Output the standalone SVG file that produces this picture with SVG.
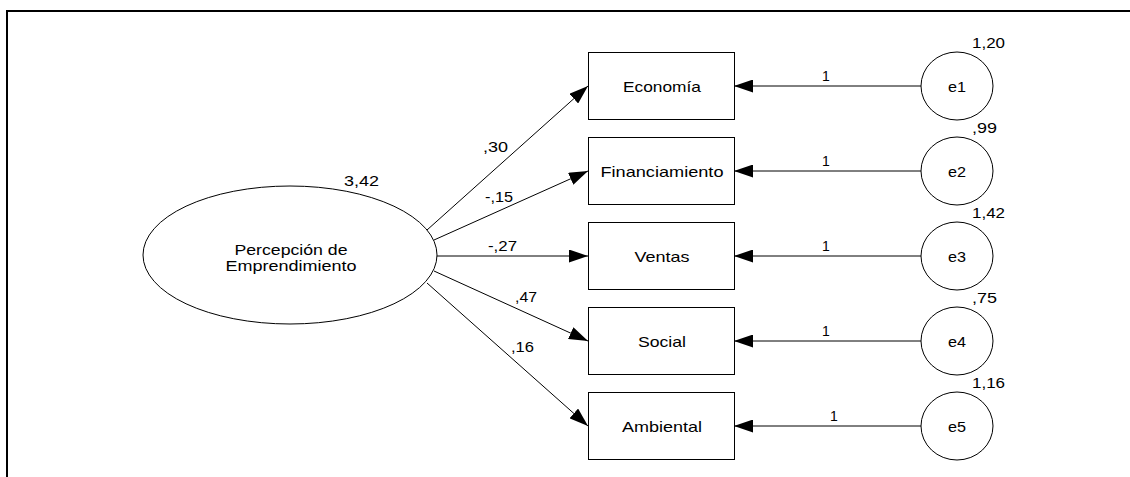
<svg xmlns="http://www.w3.org/2000/svg" width="1130" height="477" viewBox="0 0 1130 477">
<defs>
<style>
.t{font-family:"Liberation Sans",Arial,sans-serif;fill:#000}
.lbl{font-size:15px;text-anchor:middle}
.num{font-size:14px}
.mid{text-anchor:middle}
.box{fill:#fff;stroke:#000;stroke-width:1}
.ov{fill:#fff;stroke:#000;stroke-width:1}
.c{stroke:#000;stroke-width:1;fill:none}
</style>
<marker id="ah" markerUnits="userSpaceOnUse" viewBox="0 0 19 13" refX="19" refY="6.5" markerWidth="19" markerHeight="13" orient="auto"><path d="M0,0L19,6.5L0,13z" fill="#000"/></marker>
</defs>
<rect width="1130" height="477" fill="#fff"/>
<g id="frame" stroke="#000" stroke-width="2" fill="none">
<line x1="6" y1="11" x2="1130" y2="11"/>
<line x1="7" y1="10" x2="7" y2="477"/>
</g>
<g id="connectors">
<line class="c" x1="427" y1="230" x2="588" y2="86" marker-end="url(#ah)"/>
<line class="c" x1="434" y1="240" x2="588" y2="171" marker-end="url(#ah)"/>
<line class="c" x1="437" y1="256" x2="588" y2="256" marker-end="url(#ah)"/>
<line class="c" x1="434" y1="271" x2="588" y2="341" marker-end="url(#ah)"/>
<line class="c" x1="427" y1="283" x2="588" y2="426" marker-end="url(#ah)"/>
<line class="c" x1="921" y1="86" x2="734" y2="86" marker-end="url(#ah)"/>
<line class="c" x1="921" y1="171" x2="734" y2="171" marker-end="url(#ah)"/>
<line class="c" x1="921" y1="256" x2="734" y2="256" marker-end="url(#ah)"/>
<line class="c" x1="921" y1="341" x2="734" y2="341" marker-end="url(#ah)"/>
<line class="c" x1="921" y1="426" x2="734" y2="426" marker-end="url(#ah)"/>
<text class="t num" x="483" y="152" textLength="25" lengthAdjust="spacingAndGlyphs">,30</text>
<text class="t num" x="485" y="202" textLength="28" lengthAdjust="spacingAndGlyphs">-,15</text>
<text class="t num" x="488" y="251" textLength="29" lengthAdjust="spacingAndGlyphs">-,27</text>
<text class="t num" x="515" y="302" textLength="22" lengthAdjust="spacingAndGlyphs">,47</text>
<text class="t num" x="511" y="352" textLength="23" lengthAdjust="spacingAndGlyphs">,16</text>
<text class="t num mid" x="826" y="81">1</text>
<text class="t num mid" x="826" y="166">1</text>
<text class="t num mid" x="826" y="251">1</text>
<text class="t num mid" x="826" y="336">1</text>
<text class="t num mid" x="834" y="421">1</text>
</g>
<g id="latent">
<ellipse class="ov" cx="290" cy="255" rx="147" ry="69"/>
<text class="t lbl" x="291" y="255" textLength="113" lengthAdjust="spacingAndGlyphs">Percepción de</text>
<text class="t lbl" x="291" y="271" textLength="131" lengthAdjust="spacingAndGlyphs">Emprendimiento</text>
<text class="t num" x="344" y="186" textLength="35" lengthAdjust="spacingAndGlyphs">3,42</text>
</g>
<g id="economia">
<rect class="box" x="588.5" y="52.5" width="146" height="67"/>
<text class="t lbl" x="662" y="91.5" textLength="78" lengthAdjust="spacingAndGlyphs">Economía</text>
</g>
<g id="financiamiento">
<rect class="box" x="588.5" y="137.5" width="146" height="67"/>
<text class="t lbl" x="662" y="176.5" textLength="123" lengthAdjust="spacingAndGlyphs">Financiamiento</text>
</g>
<g id="ventas">
<rect class="box" x="588.5" y="222.5" width="146" height="67"/>
<text class="t lbl" x="662" y="261.5" textLength="55" lengthAdjust="spacingAndGlyphs">Ventas</text>
</g>
<g id="social">
<rect class="box" x="588.5" y="307.5" width="146" height="67"/>
<text class="t lbl" x="662" y="346.5" textLength="48" lengthAdjust="spacingAndGlyphs">Social</text>
</g>
<g id="ambiental">
<rect class="box" x="588.5" y="392.5" width="146" height="67"/>
<text class="t lbl" x="662" y="431.5" textLength="80" lengthAdjust="spacingAndGlyphs">Ambiental</text>
</g>
<g id="e1">
<ellipse class="ov" cx="957" cy="86" rx="36" ry="34"/>
<text class="t lbl" x="957" y="92" textLength="18" lengthAdjust="spacingAndGlyphs">e1</text>
<text class="t num" x="972" y="48" textLength="33" lengthAdjust="spacingAndGlyphs">1,20</text>
</g>
<g id="e2">
<ellipse class="ov" cx="957" cy="171" rx="36" ry="34"/>
<text class="t lbl" x="957" y="177" textLength="18" lengthAdjust="spacingAndGlyphs">e2</text>
<text class="t num" x="972" y="133" textLength="25" lengthAdjust="spacingAndGlyphs">,99</text>
</g>
<g id="e3">
<ellipse class="ov" cx="957" cy="256" rx="36" ry="34"/>
<text class="t lbl" x="957" y="262" textLength="18" lengthAdjust="spacingAndGlyphs">e3</text>
<text class="t num" x="972" y="218" textLength="33" lengthAdjust="spacingAndGlyphs">1,42</text>
</g>
<g id="e4">
<ellipse class="ov" cx="957" cy="341" rx="36" ry="34"/>
<text class="t lbl" x="957" y="347" textLength="18" lengthAdjust="spacingAndGlyphs">e4</text>
<text class="t num" x="972" y="303" textLength="25" lengthAdjust="spacingAndGlyphs">,75</text>
</g>
<g id="e5">
<ellipse class="ov" cx="957" cy="426" rx="36" ry="34"/>
<text class="t lbl" x="957" y="432" textLength="18" lengthAdjust="spacingAndGlyphs">e5</text>
<text class="t num" x="972" y="388" textLength="33" lengthAdjust="spacingAndGlyphs">1,16</text>
</g>
</svg>
